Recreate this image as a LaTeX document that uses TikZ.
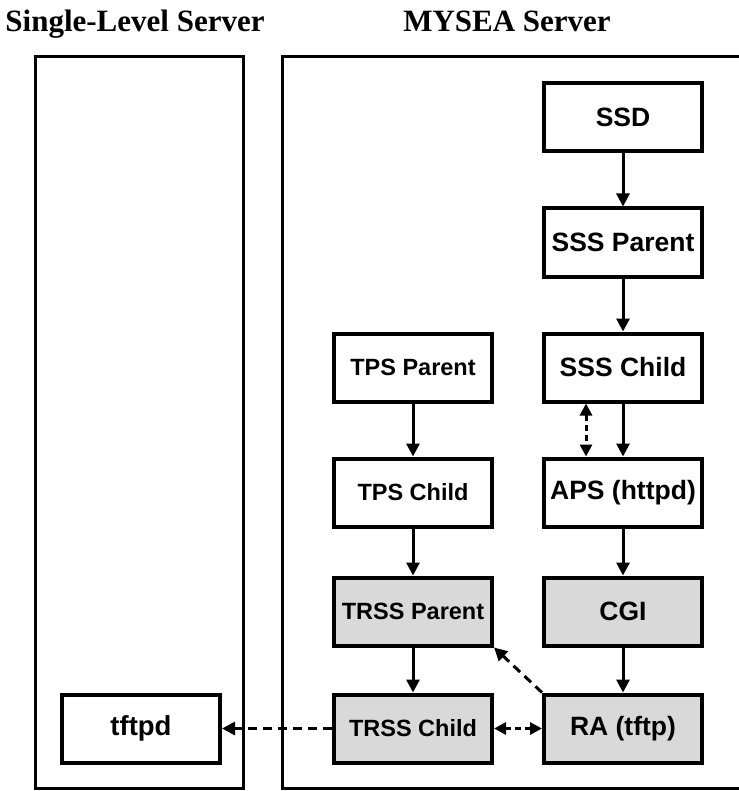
\documentclass[tikz,border=0pt]{standalone}
\usepackage{fontspec}
\setmainfont{Liberation Serif}
\setsansfont{Liberation Sans}
\usetikzlibrary{arrows.meta}
\definecolor{boxgray}{RGB}{217,217,217}
\begin{document}
\begin{tikzpicture}[x=1pt,y=-1pt,
    title/.style={font=\rmfamily\bfseries\fontsize{31}{36}\selectfont,inner sep=0pt,anchor=base},
    proc/.style={draw,line width=4pt,minimum width=158pt,minimum height=68pt,inner sep=0pt,
      font=\sffamily\bfseries\fontsize{#1}{30}\selectfont},
    proc/.default=26.5,
    trusted/.style={proc=#1,fill=boxgray},
    trusted/.default=26.5,
    flow/.style={line width=3pt,-{Triangle[width=13pt,length=13pt]}},
    link/.style={flow,dash pattern=on 9pt off 6pt},
    duplex/.style={line width=3pt,{Triangle[width=12pt,length=12pt]}-{Triangle[width=12pt,length=12pt]},
      dash pattern=on 6pt off 4pt}]
  \useasboundingbox[fill=white] (0,0) rectangle (738,791);
  % servers
  \node[title] (slstitle) at (135,32) {Single-Level Server};
  \node[title] (myseatitle) at (507,32) {MYSEA Server};
  \draw[line width=3pt] (35,57) rectangle (243,788);
  \draw[line width=3pt] (282,57) rectangle (745,788);
  % processes
  \node[proc] (ssd) at (623,117.5) {SSD};
  \node[proc] (sssp) at (623,242.5) {SSS Parent};
  \node[proc] (sssc) at (623,367.5) {SSS Child};
  \node[proc] (aps) at (623,492.5) {APS (httpd)};
  \node[trusted] (cgi) at (623,611.5) {CGI};
  \node[trusted] (ra) at (623,728.5) {RA (tftp)};
  \node[proc=23.5] (tpsp) at (413,367.5) {TPS Parent};
  \node[proc=23.5] (tpsc) at (413,492.5) {TPS Child};
  \node[trusted=23.5] (trssp) at (413,611.5) {TRSS Parent};
  \node[trusted=23.5] (trssc) at (413,728.5) {TRSS Child};
  \node[proc=27.5] (tftpd) at (141,728.5) {tftpd};
  % connectors
  \draw[flow] (ssd) -- (sssp);
  \draw[flow] (sssp) -- (sssc);
  \draw[flow] (sssc) -- (aps);
  \draw[duplex] ([xshift=-37pt]sssc.south) -- ([xshift=-37pt]aps.north);
  \draw[flow] (aps) -- (cgi);
  \draw[flow] (cgi) -- (ra);
  \draw[flow] (tpsp) -- (tpsc);
  \draw[flow] (tpsc) -- (trssp);
  \draw[flow] (trssp) -- (trssc);
  \draw[duplex] (trssc) -- (ra);
  \draw[link] (ra.north west) -- (trssp.south east);
  \draw[link] (trssc) -- (tftpd);
\end{tikzpicture}
\end{document}
